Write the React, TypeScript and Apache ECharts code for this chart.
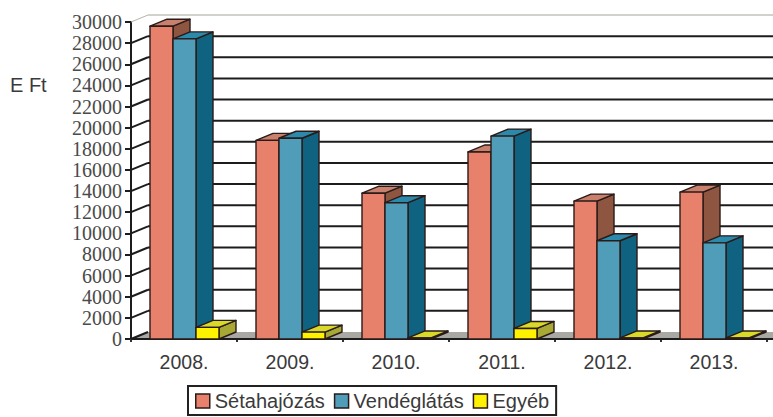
import React, { useEffect, useRef } from "react";
import * as echarts from "echarts";

const categories = ["2008.", "2009.", "2010.", "2011.", "2012.", "2013."];
const setahajozas = [29600, 18800, 13800, 17700, 13050, 13900];
const vendeglatas = [28400, 19000, 12900, 19200, 9300, 9100];
const egyeb = [1100, 650, 100, 1000, 100, 100];
const wallTicks = [0, 2000, 4000, 6000, 8000, 10000, 12000, 14000, 16000, 18000, 20000, 22000, 24000, 26000, 28000, 30000];

const DEPTH_X = 17;
const DEPTH_Y = 7;
const BAR_W = 23;
const BAR_START = 19;
const EDGE = "#2a1a18";

const makeBarRender = (index: number, front: string, top: string, side: string) => (params: any, api: any) => {
  const cat = api.value(0);
  const val = api.value(1);
  const p = api.coord([cat, val]);
  const base = api.coord([cat, 0]);
  const band = api.size([1, 0])[0];
  const x0 = p[0] - band / 2 + BAR_START + index * BAR_W;
  const x1 = x0 + BAR_W;
  const yT = p[1];
  const yB = base[1];
  const st = { stroke: EDGE, lineWidth: 1.4, lineJoin: "round" };
  return {
    type: "group",
    children: [
      {
        type: "polygon",
        shape: { points: [[x1, yT], [x1 + DEPTH_X, yT - DEPTH_Y], [x1 + DEPTH_X, yB - DEPTH_Y], [x1, yB]] },
        style: { fill: side, ...st },
      },
      {
        type: "polygon",
        shape: { points: [[x0, yT], [x0 + DEPTH_X, yT - DEPTH_Y], [x1 + DEPTH_X, yT - DEPTH_Y], [x1, yT]] },
        style: { fill: top, ...st },
      },
      {
        type: "rect",
        shape: { x: x0, y: yT, width: BAR_W, height: yB - yT },
        style: { fill: front, ...st },
      },
    ],
  };
};

const wallRender = (params: any, api: any) => {
  const val = api.value(0);
  const p = api.coord([0, val]);
  const band = api.size([1, 0])[0];
  const left = p[0] - band / 2;
  const right = left + band * categories.length + 6;
  const y = p[1];
  const children: any[] = [];
  if (val === 0) {
    children.push({
      type: "polygon",
      shape: { points: [[left, y], [left + DEPTH_X, y - DEPTH_Y], [right, y - DEPTH_Y], [right, y]] },
      style: { fill: "#a9a8a3" },
    });
  } else {
    children.push({
      type: "line",
      shape: { x1: left + DEPTH_X, y1: y - DEPTH_Y, x2: right, y2: y - DEPTH_Y },
      style: { stroke: val === 30000 ? "#a5a59a" : "#1c1c1c", lineWidth: val === 30000 ? 1 : 2 },
    });
  }
  children.push({
    type: "line",
    shape: { x1: left, y1: y, x2: left + DEPTH_X, y2: y - DEPTH_Y },
    style: { stroke: val === 30000 ? "#b5b5aa" : "#1c1c1c", lineWidth: val === 30000 ? 1 : 2 },
  });
  if (val === 0) {
    children.push({
      type: "line",
      shape: { x1: left, y1: y, x2: right, y2: y },
      style: { stroke: "#1c1c1c", lineWidth: 2 },
    });
  }
  return { type: "group", children };
};

const barSeries = (
  name: string,
  values: number[],
  index: number,
  front: string,
  top: string,
  side: string
) => ({
  type: "custom",
  name,
  itemStyle: { color: front },
  coordinateSystem: "cartesian2d",
  encode: { x: 0, y: 1 },
  data: values.map((v, i) => [i, v]),
  renderItem: makeBarRender(index, front, top, side),
  z: 3,
});

export default function App() {
  const ref = useRef<HTMLDivElement>(null);
  useEffect(() => {
    const chart = echarts.init(ref.current!, undefined, { renderer: "svg" });
    chart.setOption({
      animation: false,
      backgroundColor: "#ffffff",
      grid: { left: 131, right: 6, top: 22, bottom: 78 },
      graphic: [
        {
          type: "text",
          x: 10,
          y: 75,
          style: { text: "E Ft", fontFamily: "Liberation Sans", fontSize: 20, fill: "#3a3a3a" },
        },
      ],
      xAxis: {
        type: "category",
        data: categories,
        axisLine: { show: true, lineStyle: { color: "#1c1c1c", width: 2 } },
        axisTick: { show: true, alignWithLabel: false, length: 3, lineStyle: { color: "#333", width: 2 } },
        axisLabel: { fontFamily: "Liberation Sans", fontSize: 19.5, color: "#3a3a3a", margin: 13 },
        splitLine: { show: false },
      },
      yAxis: {
        type: "value",
        min: 0,
        max: 30000,
        interval: 2000,
        axisLine: { show: true, lineStyle: { color: "#1c1c1c", width: 2 } },
        axisTick: { show: true, length: 6, lineStyle: { color: "#1c1c1c", width: 2 } },
        axisLabel: {
          fontFamily: "Liberation Serif",
          fontSize: 20,
          color: "#4a4a4a",
          margin: 9,
          formatter: (v: number) => String(v),
        },
        splitLine: { show: false },
      },
      legend: {
        show: true,
        left: 188,
        top: 386,
        data: [
          { name: "Sétahajózás", icon: "rect" },
          { name: "Vendéglátás", icon: "rect" },
          { name: "Egyéb", icon: "rect" },
        ],
        itemWidth: 14,
        itemHeight: 14,
        itemGap: 9,
        padding: [5, 7, 4, 7],
        borderColor: "#222222",
        borderWidth: 2,
        itemStyle: { borderColor: "#2a1a18", borderWidth: 1.5 },
        textStyle: { fontFamily: "Liberation Sans", fontSize: 20, color: "#3a3a3a" },
      },
      series: [
        {
          type: "custom",
          coordinateSystem: "cartesian2d",
          encode: { y: 0 },
          data: wallTicks.map((t) => [t]),
          renderItem: wallRender,
          z: 1,
          silent: true,
        },
        barSeries("Sétahajózás", setahajozas, 0, "#e8816c", "#c9806c", "#8e5540"),
        barSeries("Vendéglátás", vendeglatas, 1, "#4f9db8", "#2b8aab", "#0f6280"),
        barSeries("Egyéb", egyeb, 2, "#fff200", "#d9d92a", "#a8a835"),
      ],
    });
    return () => chart.dispose();
  }, []);
  return <div ref={ref} style={{ position: "absolute", left: 0, top: 0, width: 773, height: 417 }} />;
}
